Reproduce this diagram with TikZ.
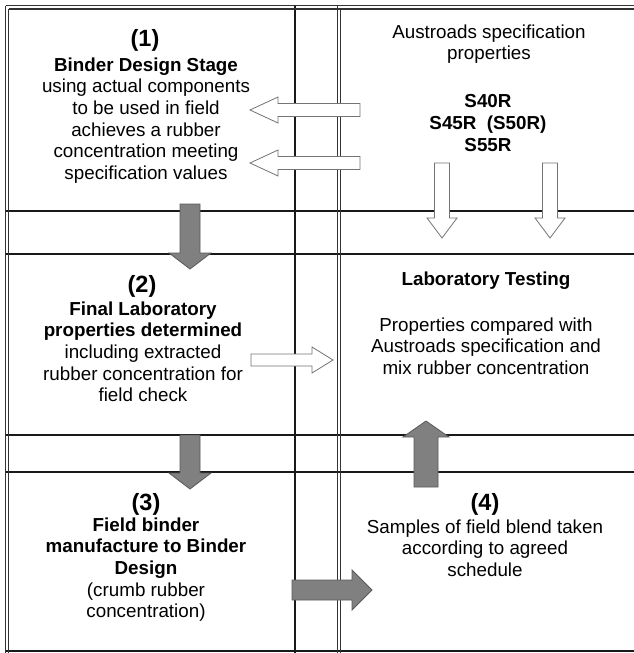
\documentclass[tikz,border=0pt]{standalone}
\usepackage{fontspec}
\setmainfont{Liberation Sans}
\begin{document}
\begin{tikzpicture}[x=1pt,y=-1pt,
  grid/.style={line width=1.4pt, draw=black!90},
  thin/.style={line width=1.1pt, draw=black!80},
  grayarrow/.style={fill=black!50, draw=black!65, line width=0.8pt, line join=miter},
  whitearrow/.style={fill=white, draw=black!55, line width=0.8pt, line join=miter},
  body/.style={align=center, inner sep=0pt, font=\fontsize{18.8}{21.6}\selectfont},
  num/.style={inner sep=0pt, font=\fontsize{23.5}{26}\selectfont\bfseries}]
\useasboundingbox (0,0) rectangle (634,653);
% grid
\draw[grid] (6,211) -- (634,211);
\draw[grid] (6,254) -- (634,254);
\draw[grid] (6,435) -- (634,435);
\draw[grid] (6,472) -- (634,472);
\draw[grid] (6,651) -- (634,651);
\draw[grid] (295,6) -- (295,653);
\draw[thin] (337.5,6) -- (337.5,653);
\draw[thin] (340.5,9) -- (340.5,653);
\draw[thin] (5.5,5.5) -- (634,5.5);
\draw[thin] (8.5,9) -- (634,9);
\draw[thin] (5.5,5.5) -- (5.5,653);
\draw[thin] (8.5,9) -- (8.5,653);
% white left arrows
\draw[whitearrow] (360,103.5) -- (278,103.5) -- (278,97) -- (250,110) -- (278,123) -- (278,116.5) -- (360,116.5) -- cycle;
\draw[whitearrow] (360,156.5) -- (278,156.5) -- (278,150) -- (250,163) -- (278,176) -- (278,169.5) -- (360,169.5) -- cycle;
% white down arrows
\draw[whitearrow] (434.5,163) -- (434.5,218) -- (427,218) -- (442,238) -- (457,218) -- (449.5,218) -- (449.5,163) -- cycle;
\draw[whitearrow] (542.5,163) -- (542.5,218) -- (535,218) -- (550,238) -- (565,218) -- (557.5,218) -- (557.5,163) -- cycle;
% white right arrow
\draw[whitearrow] (251,354) -- (312,354) -- (312,347) -- (333,360) -- (312,373) -- (312,366) -- (251,366) -- cycle;
% gray down arrows
\draw[grayarrow] (180,204) -- (180,253) -- (169,253) -- (190,269) -- (211,253) -- (200,253) -- (200,204) -- cycle;
\draw[grayarrow] (180,435) -- (180,473) -- (169,473) -- (190,489) -- (211,473) -- (200,473) -- (200,435) -- cycle;
% gray right arrow
\draw[grayarrow] (292,580) -- (352,580) -- (352,570) -- (372,590) -- (352,610) -- (352,600) -- (292,600) -- cycle;
% gray up arrow
\draw[grayarrow] (414,487) -- (414,437) -- (403,437) -- (426,421) -- (449,437) -- (438,437) -- (438,487) -- cycle;
% texts
\node[num, anchor=base] (n1) at (145,46) {(1)};
\node[body, anchor=north] (t1) at (146,57.5) {\textbf{Binder Design Stage}\\using actual components\\to be used in field\\achieves a rubber\\concentration meeting\\specification values};
\node[body, anchor=north] (spec) at (489,24.5) {Austroads specification\\properties};
\node[body, anchor=north, font=\fontsize{18.8}{21.8}\selectfont\bfseries] (grades) at (488,94.5) {S40R\\S45R\ \ (S50R)\\S55R};
\node[num, anchor=base] (n2) at (142,292) {(2)};
\node[body, anchor=north] (t2) at (143,301.5) {\textbf{Final Laboratory}\\\textbf{properties determined}\\including extracted\\rubber concentration for\\field check};
\node[body, anchor=north, font=\fontsize{18.8}{21.6}\selectfont\bfseries] (lab) at (486,271.5) {Laboratory Testing};
\node[body, anchor=north] (labt) at (486,317.5) {Properties compared with\\Austroads specification and\\mix rubber concentration};
\node[num, anchor=base] (n3) at (146,510) {(3)};
\node[body, anchor=north] (t3) at (146,517.5) {\textbf{Field binder}\\\textbf{manufacture to Binder}\\\textbf{Design}\\(crumb rubber\\concentration)};
\node[num, anchor=base] (n4) at (485,510) {(4)};
\node[body, anchor=north] (t4) at (485,519.5) {Samples of field blend taken\\according to agreed\\schedule};
\end{tikzpicture}
\end{document}
